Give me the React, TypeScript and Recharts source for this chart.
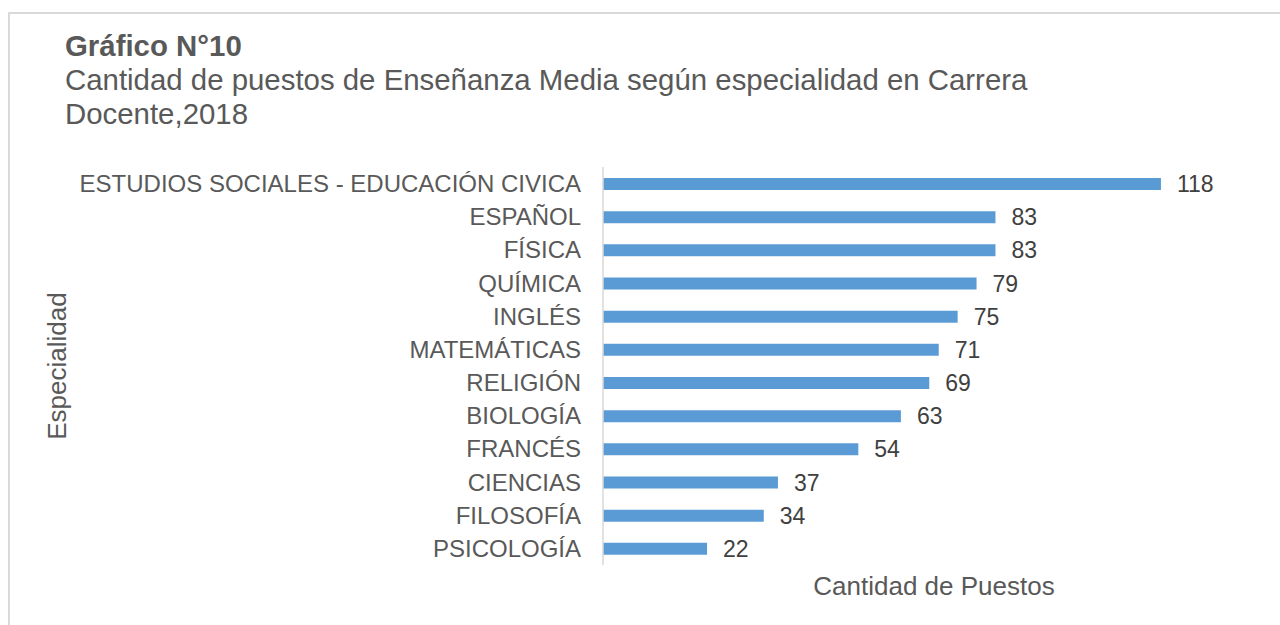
import { Bar, BarChart, LabelList, XAxis, YAxis } from "recharts"

const categories = [
  "ESTUDIOS SOCIALES - EDUCACIÓN CIVICA",
  "ESPAÑOL",
  "FÍSICA",
  "QUÍMICA",
  "INGLÉS",
  "MATEMÁTICAS",
  "RELIGIÓN",
  "BIOLOGÍA",
  "FRANCÉS",
  "CIENCIAS",
  "FILOSOFÍA",
  "PSICOLOGÍA",
]

const puestos = [118, 83, 83, 79, 75, 71, 69, 63, 54, 37, 34, 22]

const data = categories.map((name, i) => ({ name, puestos: puestos[i] }))

const font = "'Liberation Sans', Arial, sans-serif"

export default function App() {
  return (
    <div
      style={{
        position: "absolute",
        left: 0,
        top: 0,
        width: 1280,
        height: 625,
        overflow: "hidden",
        fontFamily: font,
      }}
    >
      <div
        style={{
          position: "absolute",
          left: 8,
          top: 12,
          width: 1300,
          height: 640,
          border: "2px solid #d9d9d9",
          boxSizing: "border-box",
        }}
      />
      <div
        style={{
          position: "absolute",
          left: 65,
          top: 29,
          fontSize: 29.4,
          lineHeight: "34px",
          color: "#595959",
          whiteSpace: "nowrap",
        }}
      >
        <div style={{ fontWeight: "bold" }}>Gráfico N°10</div>
        <div>Cantidad de puestos de Enseñanza Media según especialidad en Carrera</div>
        <div>Docente,2018</div>
      </div>
      <div style={{ position: "absolute", left: 0, top: 0 }}>
        <BarChart
          width={1280}
          height={625}
          data={data}
          layout="vertical"
          margin={{ top: 167, right: 15, bottom: 60, left: 83 }}
        >
          <XAxis type="number" domain={[0, 140]} hide />
          <YAxis
            type="category"
            dataKey="name"
            width={520}
            axisLine={{ stroke: "#d9d9d9", strokeWidth: 1.5 }}
            tickLine={false}
            tickSize={0}
            tickMargin={22}
            interval={0}
            tick={{ fill: "#595959", fontSize: 24, fontFamily: font }}
          />
          <Bar dataKey="puestos" fill="#5b9bd5" barSize={12} isAnimationActive={false}>
            <LabelList
              dataKey="puestos"
              position="right"
              offset={16}
              fill="#404040"
              fontSize={23}
              fontFamily={font}
            />
          </Bar>
        </BarChart>
      </div>
      <div
        style={{
          position: "absolute",
          left: 934,
          top: 571,
          transform: "translateX(-50%)",
          fontSize: 26,
          color: "#595959",
          whiteSpace: "nowrap",
        }}
      >
        Cantidad de Puestos
      </div>
      <div
        style={{
          position: "absolute",
          left: 57,
          top: 366,
          transform: "translate(-50%, -50%) rotate(-90deg)",
          fontSize: 26,
          color: "#595959",
          whiteSpace: "nowrap",
        }}
      >
        Especialidad
      </div>
    </div>
  )
}
